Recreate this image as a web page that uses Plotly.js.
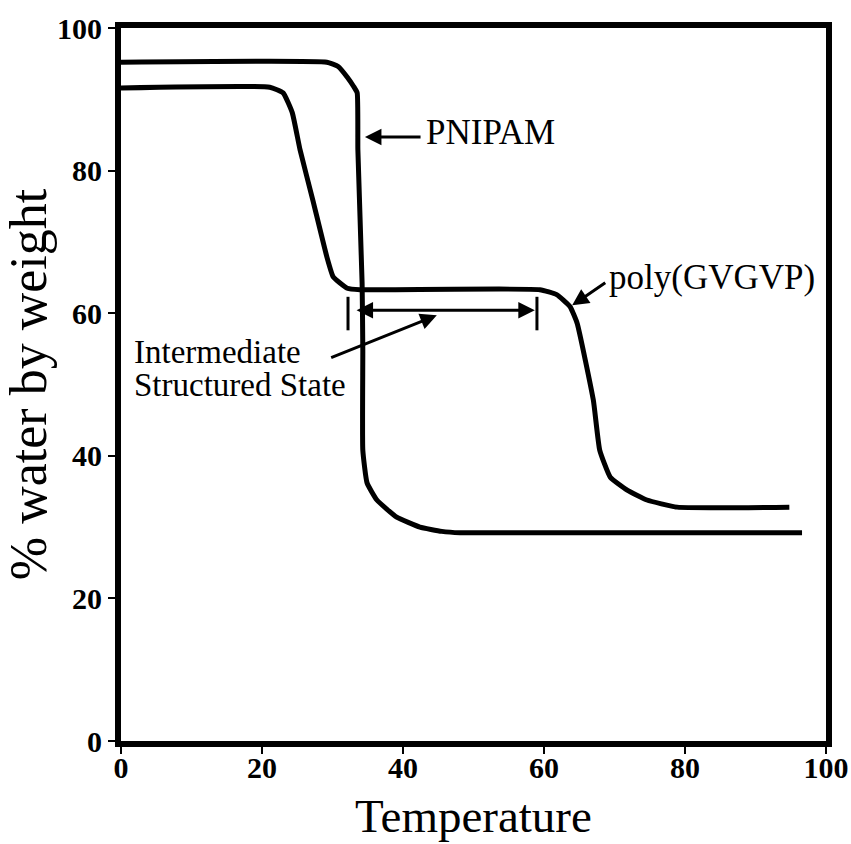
<!DOCTYPE html>
<html>
<head>
<meta charset="utf-8">
<script src="https://cdn.plot.ly/plotly-3.0.1.min.js"></script>
<style>html,body{margin:0;padding:0;background:#fff;}#chart{width:851px;height:844px;}</style>
</head>
<body>
<div id="chart"></div>
<script>
// PNIPAM curve
const pnipamX = [0, 29.2, 30.8, 32.1, 33.0, 33.5, 33.6, 34.2, 34.3, 34.3, 34.9, 36.3, 39.1, 42.4, 45.5, 48.1, 96.6];
const pnipamY = [95.2, 95.2, 94.6, 93.1, 91.8, 90.9, 82.9, 64.2, 54.8, 40.8, 36.2, 33.8, 31.4, 30.0, 29.4, 29.2, 29.2];
// poly(GVGVP) curve
const gvgvpX = [0, 21.1, 23.0, 24.3, 25.4, 27.2, 29.2, 30.1, 32.1, 33.9, 59.4, 61.8, 63.7, 64.7, 67.0, 67.9, 69.4, 71.8, 74.6, 78.9, 94.8];
const gvgvpY = [91.6, 91.7, 90.9, 88.1, 82.9, 75.9, 67.9, 65.1, 63.5, 63.3, 63.3, 62.6, 60.9, 58.6, 47.8, 40.8, 37.0, 35.2, 33.8, 32.8, 32.8];

const tickVals = [0, 20, 40, 60, 80, 100];
const tickText = ['0', '20', '40', '60', '80', '100'];

// Labels
const labelTexts = ['PNIPAM', 'poly(GVGVP)', 'Intermediate', 'Structured State'];
const labelX = [43.0, 69.0, 1.6, 1.6];
const labelY = [85.4, 65.0, 54.6, 50.0];
const labelSize = [35, 35, 33, 33];

// Arrows: head (x,y), tail (ax,ay)
const arrowHeadX = [34.6, 64.0, 44.8];
const arrowHeadY = [84.7, 61.1, 59.7];
const arrowTailX = [42.7, 68.9, 29.6];
const arrowTailY = [84.7, 64.4, 53.7];

// Double arrow (intermediate range)
const rangeX = [33.2, 58.7];
const rangeY = 60.4;
// Vertical bars
const barX = [32.2, 59.0];
const barY = [57.6, 62.3];

const serif = 'Liberation Serif, Times New Roman, serif';

const traces = [
  {x: pnipamX, y: pnipamY, mode: 'lines', line: {color: '#000', width: 5, shape: 'spline', smoothing: 0.4}, hoverinfo: 'skip'},
  {x: gvgvpX, y: gvgvpY, mode: 'lines', line: {color: '#000', width: 5, shape: 'spline', smoothing: 0.4}, hoverinfo: 'skip'}
];

const annotations = [];
labelTexts.forEach((t, i) => {
  annotations.push({x: labelX[i], y: labelY[i], xref: 'x', yref: 'y', text: t, showarrow: false,
    xanchor: 'left', yanchor: 'middle', align: 'left', font: {family: serif, size: labelSize[i], color: '#000'}});
});
arrowHeadX.forEach((hx, i) => {
  annotations.push({x: hx, y: arrowHeadY[i], ax: arrowTailX[i], ay: arrowTailY[i], axref: 'x', ayref: 'y',
    xref: 'x', yref: 'y', text: '', showarrow: true, arrowhead: 2, arrowsize: 1.1, arrowwidth: 3, arrowcolor: '#000'});
});
annotations.push({x: rangeX[1], y: rangeY, ax: rangeX[0], ay: rangeY, axref: 'x', ayref: 'y', xref: 'x', yref: 'y',
  text: '', showarrow: true, arrowhead: 2, startarrowhead: 2, arrowside: 'end+start', arrowsize: 1.1, startarrowsize: 1.1,
  arrowwidth: 3, arrowcolor: '#000'});

const shapes = barX.map(bx => ({type: 'line', xref: 'x', yref: 'y', x0: bx, x1: bx, y0: barY[0], y1: barY[1],
  line: {color: '#000', width: 3}}));

const axisCommon = {
  range: [0, 100], tickvals: tickVals, ticktext: tickText, ticks: 'outside', ticklen: 7, tickwidth: 2,
  tickcolor: '#000', showline: true, linecolor: '#000', linewidth: 6, mirror: true, showgrid: false,
  zeroline: false, tickfont: {family: serif, size: 30, color: '#000', weight: 'bold'}
};

const layout = {
  width: 851, height: 844,
  margin: {l: 121, r: 25, t: 28, b: 103},
  paper_bgcolor: '#fff', plot_bgcolor: '#fff',
  showlegend: false,
  xaxis: Object.assign({}, axisCommon, {ticklabelstandoff: -12,
    title: {text: 'Temperature', font: {family: serif, size: 47, color: '#000'}, standoff: 18}}),
  yaxis: Object.assign({}, axisCommon, {
    title: {text: '% water by weight', font: {family: serif, size: 52, color: '#000'}, standoff: 6}}),
  annotations: annotations,
  shapes: shapes
};

Plotly.newPlot('chart', traces, layout, {displayModeBar: false, staticPlot: true});
</script>
</body>
</html>
